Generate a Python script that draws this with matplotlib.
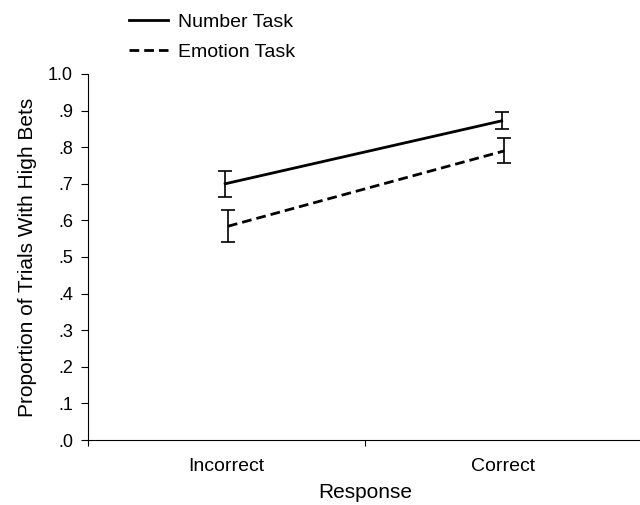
import numpy as np
import matplotlib.pyplot as plt
from matplotlib.lines import Line2D

plt.rcParams['font.family'] = ['Liberation Sans Narrow', 'Liberation Sans', 'DejaVu Sans']

categories = ['Incorrect', 'Correct']
number_mean = [0.700, 0.872]
number_err = [0.035, 0.023]
emotion_mean = [0.584, 0.790]
emotion_err = [0.044, 0.034]

x = np.array([0.5, 1.5])
dash = (0, (3.5, 1.8))

fig = plt.figure(figsize=(6.4, 5.05), dpi=100)
ax = fig.add_axes([0.138, 0.1287, 0.864, 0.7248])

ax.errorbar(x - 0.005, number_mean, yerr=number_err, color='black', lw=2,
            capsize=5, elinewidth=1.2, capthick=1.2)
ax.errorbar(x + 0.005, emotion_mean, yerr=emotion_err, color='black', lw=2,
            ls=dash, capsize=5, elinewidth=1.2, capthick=1.2)

ax.set_xlim(0, 2)
ax.set_ylim(0, 1.0)
ax.set_yticks(np.arange(0, 1.01, 0.1))
ax.set_yticklabels(['.0', '.1', '.2', '.3', '.4', '.5', '.6', '.7', '.8', '.9', '1.0'])
ax.set_xticks([0, 1, 2])
ax.set_xticklabels([])
ax.set_xticks(x, minor=True)
ax.set_xticklabels(categories, minor=True)
ax.tick_params(axis='x', which='minor', length=0, pad=13, labelsize=14)
ax.tick_params(axis='x', which='major', length=4)
ax.tick_params(axis='y', labelsize=13, length=5, pad=6)
ax.spines['top'].set_visible(False)
ax.spines['right'].set_visible(False)

ax.set_xlabel('Response', fontsize=15, labelpad=6)
ax.set_ylabel('Proportion of Trials With High Bets', fontsize=15, labelpad=8)

handles = [Line2D([], [], color='black', lw=2),
           Line2D([], [], color='black', lw=2, ls=dash)]
ax.legend(handles, ['Number Task', 'Emotion Task'], loc='upper left',
          bbox_to_anchor=(0.073, 1.165), frameon=False, fontsize=14,
          handlelength=2.0, handletextpad=0.55, labelspacing=0.63,
          borderaxespad=0, borderpad=0)

fig.savefig('out.png', dpi=100)
